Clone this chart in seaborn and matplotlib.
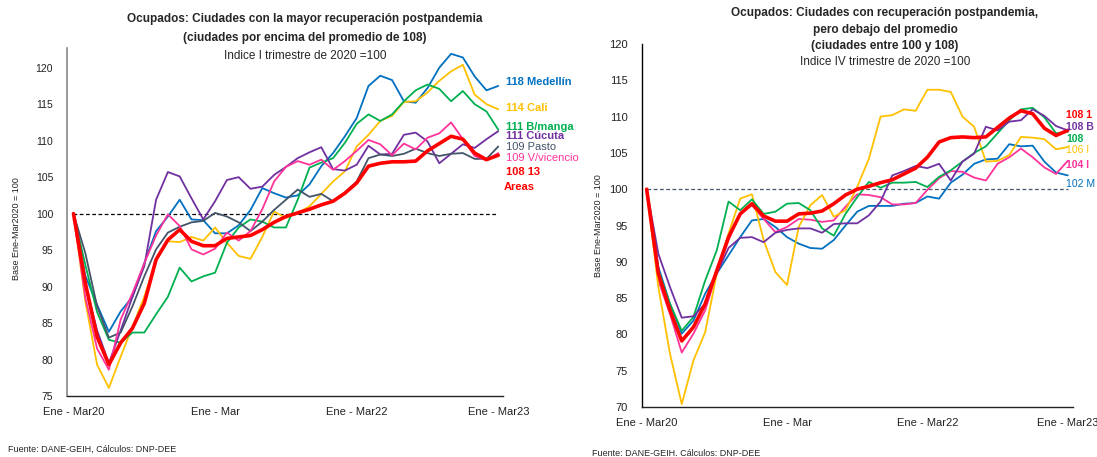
# Ocupados: recuperacion postpandemia por ciudades
import numpy as np
import pandas as pd
import matplotlib
matplotlib.use("Agg")
import matplotlib.pyplot as plt
import seaborn as sns

sns.set_style("white")
plt.rcParams['font.family'] = ['Liberation Sans', 'DejaVu Sans']

# -----------------------------------
# Data (trimestres moviles, Ene-Mar20 ... Ene-Mar23)
periodos = list(range(37))
tick_pos = [0, 12, 24, 36]
tick_labels = ["Ene - Mar20", "Ene - Mar", "Ene - Mar22", "Ene - Mar23"]

# Panel izquierdo
medellin = [100, 91.5, 87.5, 83.8, 86.6, 88.6, 93.2, 97.6, 99.6, 101.9, 99.2, 99.1, 97.3, 97.3, 98.4, 100.5,
            103.5, 102.8, 102.2, 102.5, 104.0, 106.5, 108.3, 110.6, 113.1, 117.5, 118.9, 118.3, 115.4, 115.2,
            117.2, 120.0, 121.9, 121.4, 118.8, 116.9, 117.5]
cali = [100, 88.0, 79.3, 76.1, 80.4, 84.5, 88.6, 93.7, 96.2, 96.1, 96.8, 96.3, 98.1, 96.0, 94.2, 93.8,
        96.8, 100.3, 99.4, 100.1, 101.0, 102.7, 104.4, 105.8, 109.2, 110.8, 112.7, 113.4, 115.3, 115.4,
        116.6, 118.2, 119.5, 120.4, 116.3, 115.0, 114.3]
bmanga = [100, 93.0, 86.5, 82.7, 82.3, 83.7, 83.7, 86.2, 88.6, 92.6, 90.7, 91.4, 91.9, 96.0, 98.1, 99.2,
          98.9, 98.1, 98.1, 101.9, 106.3, 107.0, 107.6, 109.7, 112.3, 113.6, 112.7, 113.6, 115.4, 116.9,
          117.7, 117.1, 115.4, 116.8, 115.0, 114.0, 111.5]
cucuta = [100, 90.5, 84.0, 79.5, 84.0, 88.6, 92.8, 101.9, 105.7, 105.1, 102.1, 99.2, 101.7, 104.6, 105.0, 103.4,
          103.7, 105.3, 106.4, 107.6, 108.4, 109.1, 106.1, 105.9, 106.7, 109.3, 108.1, 108.2, 110.8, 111.1,
          109.9, 106.9, 108.2, 109.5, 109.0, 110.2, 111.3]
pasto = [100, 94.6, 87.3, 83.0, 83.7, 87.3, 91.4, 95.1, 97.4, 98.2, 98.8, 99.0, 100.1, 99.6, 98.8, 97.6,
         98.9, 100.5, 101.9, 103.3, 102.3, 102.7, 101.7, 102.9, 104.4, 107.6, 108.1, 107.9, 108.2, 108.9,
         108.3, 107.9, 108.2, 108.3, 107.5, 107.5, 109.2]
vicencio = [100, 88.5, 81.5, 78.6, 85.5, 89.1, 93.2, 97.0, 99.9, 98.3, 95.1, 94.4, 95.2, 97.4, 96.3, 97.6,
            100.6, 104.4, 106.4, 107.2, 106.7, 107.4, 106.0, 107.2, 108.6, 110.1, 109.5, 108.0, 109.6, 108.8,
            110.4, 111.0, 112.5, 110.2, 107.9, 107.3, 108.3]
areas13 = [100, 90.5, 83.1, 79.3, 82.3, 84.3, 87.7, 93.7, 96.4, 97.8, 96.2, 95.6, 95.6, 96.6, 96.8, 97.0,
           97.8, 98.8, 99.6, 100.1, 100.6, 101.2, 101.7, 102.8, 104.2, 106.5, 106.9, 107.1, 107.1, 107.2,
           108.6, 109.6, 110.6, 110.2, 108.3, 107.4, 108.0]

# Panel derecho
r_areas13 = [100, 88.4, 83.3, 79.1, 81.0, 84.2, 88.8, 93.4, 96.6, 98.0, 96.3, 95.6, 95.6, 96.6, 96.7, 97.0,
             98.0, 99.2, 100.0, 100.4, 100.9, 101.3, 102.1, 102.9, 104.4, 106.5, 107.1, 107.2, 107.1, 107.2,
             108.5, 109.8, 110.8, 110.4, 108.4, 107.4, 108.1]
morado_r = [100, 91.1, 86.5, 82.3, 82.5, 84.2, 88.4, 91.9, 93.3, 93.4, 92.7, 94.0, 94.4, 94.6, 94.6, 94.0,
            95.2, 95.3, 95.3, 96.4, 98.3, 101.9, 102.5, 103.2, 102.9, 103.5, 101.2, 103.8, 104.9, 108.6,
            108.1, 109.3, 109.5, 111.0, 110.1, 108.7, 108.1]
verde_r = [100, 88.8, 84.2, 80.5, 82.4, 87.4, 91.6, 98.3, 97.1, 98.6, 96.6, 96.9, 98.0, 98.1, 97.1, 94.6,
           93.6, 96.6, 98.9, 101.0, 100.2, 100.9, 100.9, 101.0, 100.3, 101.7, 102.6, 103.8, 105.0, 105.9,
           107.7, 109.5, 111.0, 111.2, 109.9, 107.7, 107.9]
amarillo_r = [100, 86.5, 77.3, 70.4, 76.4, 80.3, 88.4, 93.9, 98.7, 99.3, 93.0, 88.6, 86.8, 94.8, 97.8, 99.2,
              96.2, 97.1, 100.3, 104.2, 110.0, 110.2, 111.0, 110.8, 113.7, 113.7, 113.4, 110.0, 108.6, 103.8,
              103.9, 104.7, 107.2, 107.1, 106.9, 105.5, 105.8]
rosado_r = [100, 87.4, 82.8, 77.5, 80.1, 83.3, 88.4, 93.0, 96.6, 97.8, 95.9, 94.1, 94.8, 95.9, 95.8, 95.5,
            95.7, 97.6, 99.3, 99.2, 98.9, 97.9, 97.9, 98.1, 99.9, 101.5, 102.5, 102.4, 101.6, 101.2,
            103.5, 104.4, 105.6, 104.4, 103.0, 102.1, 103.9]
azul_r = [100, 89.3, 84.2, 80.1, 81.9, 85.6, 88.4, 90.9, 93.4, 95.7, 95.9, 94.8, 93.4, 92.5, 91.9, 91.8,
          93.0, 95.0, 96.9, 97.7, 97.7, 97.7, 98.0, 98.1, 99.0, 98.7, 100.9, 102.0, 103.5, 104.1,
          104.2, 106.2, 105.9, 106.0, 103.8, 102.3, 101.9]

# -----------------------------------
# Series: (valores, color, ancho, etiqueta, y etiqueta, negrita)
azul, amarillo, verde, morado, gris, rosado, rojo = (
    "#0070C0", "#FFC000", "#00B050", "#7030A0", "#44546A", "#FF3399", "#FF0000")

izq = [
    (medellin, azul, 1.3, "118 Medellín", 82, True),
    (cali, amarillo, 1.3, "114 Cali", 108, True),
    (bmanga, verde, 1.3, "111 B/manga", 127, True),
    (cucuta, morado, 1.3, "111 Cúcuta", 136, True),
    (pasto, gris, 1.3, "109 Pasto", 147, False),
    (vicencio, rosado, 1.3, "109 V/vicencio", 158, False),
    (areas13, rojo, 2.6, "108 13", 172, True),
]
# etiquetas del panel derecho: solo la parte visible en el original (cortadas en el borde)
der = [
    (azul_r, azul, 1.3, "102 M", 184, False),
    (rosado_r, rosado, 1.3, "104 I", 165, True),
    (amarillo_r, amarillo, 1.3, "106 I", 150, False),
    (verde_r, verde, 1.3, "108", 139, True),
    (morado_r, morado, 1.3, "108 B", 127, True),
    (r_areas13, rojo, 2.6, "108 1", 115, True),
]

W, H = 1097, 457
fig = plt.figure(figsize=(W / 100, H / 100), dpi=100)


def fx(px):
    return px / W


def fy(py):
    return 1 - py / H


def panel(rect, series, ylim, yticks, xlim, dash_color, label_x, label_size):
    ax = fig.add_axes(rect)
    for vals, color, lw, lab, ly, bold in series:
        df = pd.DataFrame({"t": periodos, "v": vals})
        sns.lineplot(data=df, x="t", y="v", color=color, linewidth=lw, ax=ax,
                     zorder=5 if color == rojo else 3)
        fig.text(fx(label_x), fy(ly), lab, color=color, fontsize=label_size,
                 fontweight="bold" if bold else "normal", va="center", ha="left")
    ax.plot([periodos[0], periodos[-1]], [100, 100], ls=(0, (3, 2)), color=dash_color,
            lw=0.9, zorder=2)
    ax.set_xlim(*xlim)
    ax.set_ylim(*ylim)
    ax.set_yticks(yticks)
    ax.set_xticks(tick_pos)
    ax.set_xticklabels(tick_labels)
    ax.set_xlabel("")
    ax.set_ylabel("Base Ene-Mar2020 = 100", fontsize=6.5, color="#222222")
    ax.tick_params(length=0, labelsize=8, colors="#222222")
    for s in ["top", "right"]:
        ax.spines[s].set_visible(False)
    ax.spines["bottom"].set_color("#222222")
    ax.spines["bottom"].set_linewidth(1.0)
    return ax


# -----------------------------------
# Panel izquierdo
ax1 = panel([fx(67), fy(396), fx(503) - fx(67), fy(48) - fy(396)], izq,
            (75, 122.7), list(range(75, 121, 5)), (-0.55, 36.4), "#000000", 506, 8)
ax1.spines["left"].set_color("#888888")
ax1.spines["left"].set_linewidth(1.2)
ax1.yaxis.set_label_coords(-0.105, 0.48)
ax1.tick_params(axis="x", pad=8)
ax1.tick_params(axis="y", pad=10, labelsize=7.5)
fig.text(fx(504), fy(187), "Areas", color=rojo, fontsize=8, fontweight="bold", va="center")

fig.text(fx(305), fy(19), "Ocupados: Ciudades con la mayor recuperación postpandemia",
         ha="center", va="center", fontsize=8.5, fontweight="bold")
fig.text(fx(305), fy(38), "(ciudades por encima del promedio de 108)",
         ha="center", va="center", fontsize=8.5, fontweight="bold")
fig.text(fx(305), fy(56), "Indice I trimestre de 2020 =100",
         ha="center", va="center", fontsize=8.5)
fig.text(fx(8), fy(449), "Fuente: DANE-GEIH, Cálculos: DNP-DEE", fontsize=6.5, va="center")

# -----------------------------------
# Panel derecho
ax2 = panel([fx(641.5), fy(407), fx(1073) - fx(641.5), fy(44) - fy(407)], der,
            (70, 120), list(range(70, 121, 5)), (-0.44, 36.45), "#44546A", 1066, 7.5)
ax2.spines["left"].set_color("#000000")
ax2.spines["left"].set_linewidth(1.0)
ax2.yaxis.set_label_coords(-0.09, 0.5)
ax2.tick_params(axis="x", pad=8)
ax2.tick_params(axis="y", pad=10)

fig.text(fx(885), fy(13), "Ocupados: Ciudades con recuperación postpandemia,",
         ha="center", va="center", fontsize=8.5, fontweight="bold")
fig.text(fx(885), fy(30), "pero debajo del promedio",
         ha="center", va="center", fontsize=8.5, fontweight="bold")
fig.text(fx(885), fy(46), "(ciudades entre 100 y 108)",
         ha="center", va="center", fontsize=8.5, fontweight="bold")
fig.text(fx(885), fy(62), "Indice IV trimestre de 2020 =100",
         ha="center", va="center", fontsize=8.5)
fig.text(fx(592), fy(453), "Fuente: DANE-GEIH. Cálculos: DNP-DEE", fontsize=6.5, va="center")

fig.savefig("out.png", dpi=100)
